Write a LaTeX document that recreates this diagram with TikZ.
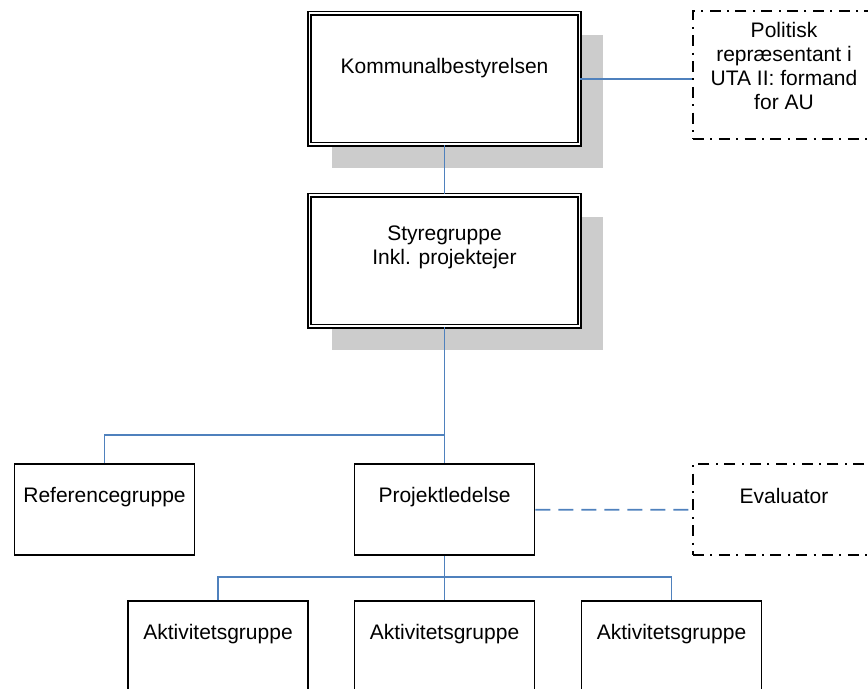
\documentclass[tikz,border=0pt]{standalone}
\usepackage{fontspec}
\setmainfont{Liberation Sans}
\pgfdeclarelayer{bg}
\pgfsetlayers{bg,main}
\definecolor{linkblue}{RGB}{79,129,189}
\definecolor{shadowgray}{RGB}{204,204,204}
\tikzset{
    every node/.style={font=\fontsize{10.5}{12}\selectfont, align=center,
    	inner xsep=0pt, inner ysep=0pt, anchor=north},
    bigbox/.style={draw, fill=white, double, line width=0.8pt,
    	double distance=0.9pt, minimum width=135pt},
    smallbox/.style={draw, fill=white, line width=0.8pt, minimum width=90pt,
    	text height=19.25pt, text depth=26.25pt},
    dashbox/.style={draw, fill=white, line width=0.75pt, minimum width=91pt,
    	dash pattern=on 5.5pt off 3.2pt on 1pt off 3.2pt},
    link/.style={draw=linkblue, line width=0.8pt}
}

\begin{document}
\begin{tikzpicture}[x=0.5pt, y=-0.5pt]
  \useasboundingbox (0,0) rectangle (868,689);

  \node (kb) [bigbox, text height=30.25pt, text depth=35.25pt] at (444.5,12.5) {Kommunalbestyrelsen};
  \node (sg) [bigbox, text height=34.75pt, text depth=30.75pt] at (444.5,194.5) {Styregruppe\\Inkl. projektejer};
  \node (pol) [dashbox, text height=49.25pt, text depth=14.75pt] at (784,10.5) {Politisk\\repræsentant i\\UTA II: formand\\for AU};
  \node (ref) [smallbox] at (104.5,463.5) {Referencegruppe};
  \node (pl) [smallbox] at (444.5,463.5) {Projektledelse};
  \node (ev) [dashbox, text height=19.5pt, text depth=26pt] at (784,463.5) {Evaluator};
  \node (ak1) [smallbox] at (218,600.5) {Aktivitetsgruppe};
  \node (ak2) [smallbox] at (444.5,600.5) {Aktivitetsgruppe};
  \node (ak3) [smallbox] at (671.5,600.5) {Aktivitetsgruppe};

  \coordinate (split1) at (444.5,435);
  \coordinate (split2) at (444.5,577);

  \begin{pgfonlayer}{bg}
	  \foreach \b in {kb, sg}
	    \fill[shadowgray] ([shift={(23,23)}]\b.south west) rectangle ([shift={(23,23)}]\b.north east);
  \end{pgfonlayer}

  \draw[link] (kb.east) -- (kb.east -| pol.west);
  \draw[link] (kb.south) -- (sg.north); \draw[link] (sg.south) -- (pl.north);
  \draw[link] (ref.north) |- (split1);
  \draw[link] (pl.south) -- (ak2.north);
  \draw[link] (ak1.north) |- (split2) -| (ak3.north);
  \draw[link, dash pattern=on 7.5pt off 4pt] (pl.east) -- (ev.west);

\end{tikzpicture}
\end{document}
